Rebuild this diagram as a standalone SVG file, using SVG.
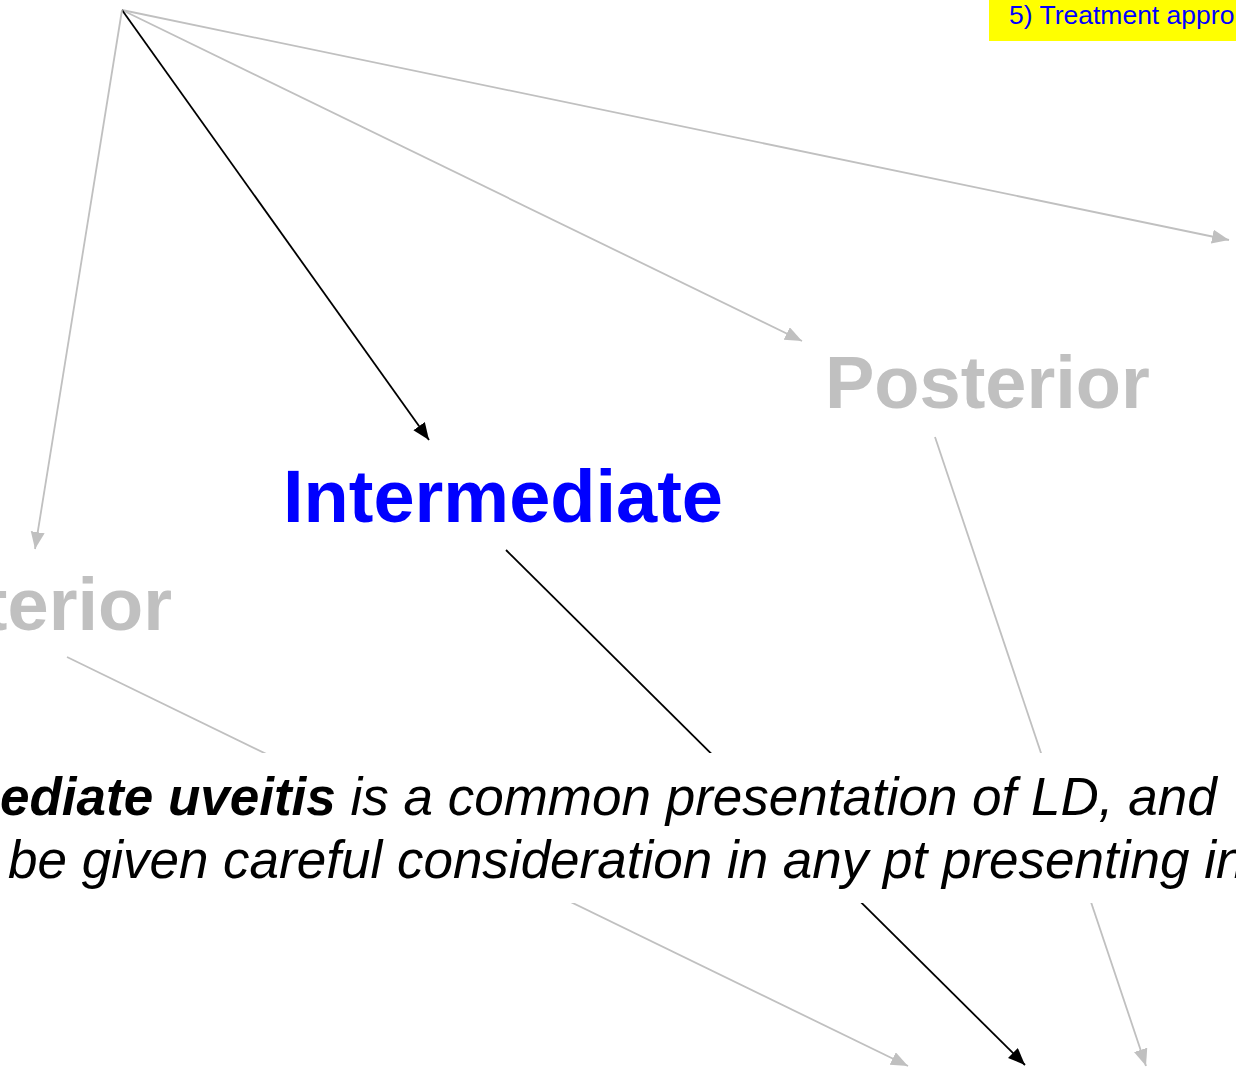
<svg xmlns="http://www.w3.org/2000/svg" width="1236" height="1078" viewBox="0 0 1236 1078">
<style>
.g{stroke:#c0c0c0;stroke-width:1.8;fill:none}
.k{stroke:#000;stroke-width:1.8;fill:none}
.lbl{font-family:"Liberation Sans",Arial,sans-serif;font-weight:bold;font-size:74px}
.body{font-family:"Liberation Sans",Arial,sans-serif;font-style:italic;font-size:53px;fill:#000}
</style>
<defs>
<marker id="ag" markerUnits="userSpaceOnUse" markerWidth="20" markerHeight="16" refX="17" refY="7" orient="auto"><path d="M0,0 L17,7 L0,14 z" fill="#c0c0c0"/></marker>
<marker id="ak" markerUnits="userSpaceOnUse" markerWidth="20" markerHeight="16" refX="17" refY="7" orient="auto"><path d="M0,0 L17,7 L0,14 z" fill="#000"/></marker>
</defs>
<rect width="1236" height="1078" fill="#fff"/>
<g id="connectors">
<line class="g" x1="122" y1="10" x2="1229" y2="240" marker-end="url(#ag)"/>
<line class="g" x1="122" y1="10" x2="802" y2="341" marker-end="url(#ag)"/>
<line class="k" x1="122" y1="10" x2="429" y2="440" marker-end="url(#ak)"/>
<line class="g" x1="122" y1="10" x2="35" y2="549" marker-end="url(#ag)"/>
<line class="g" x1="67" y1="657" x2="908" y2="1066" marker-end="url(#ag)"/>
<line class="k" x1="506" y1="550" x2="1025" y2="1065" marker-end="url(#ak)"/>
<line class="g" x1="935" y1="437" x2="1146" y2="1066" marker-end="url(#ag)"/>
</g>
<g id="node-treatment">
<rect x="989" y="0" width="260" height="41" fill="#ffff00"/>
<text x="1009" y="24" font-family="'Liberation Sans',Arial,sans-serif" font-size="26.5" fill="#0000ff">5) Treatment appro</text>
</g>
<g id="node-posterior"><text class="lbl" x="825" y="408" fill="#c0c0c0">Posterior</text></g>
<g id="node-intermediate"><text class="lbl" x="283" y="522" fill="#0000ff">Intermediate</text></g>
<g id="node-anterior"><text class="lbl" x="172" y="630" text-anchor="end" fill="#c0c0c0">Anterior</text></g>
<g id="node-text">
<rect x="-20" y="753" width="1280" height="150" fill="#fff"/>
<text class="body" x="0" y="815"><tspan font-weight="bold">ediate uveitis</tspan> is a common presentation of LD, and</text>
<text class="body" x="8" y="878">be given careful consideration in any pt presenting in</text>
</g>
</svg>
